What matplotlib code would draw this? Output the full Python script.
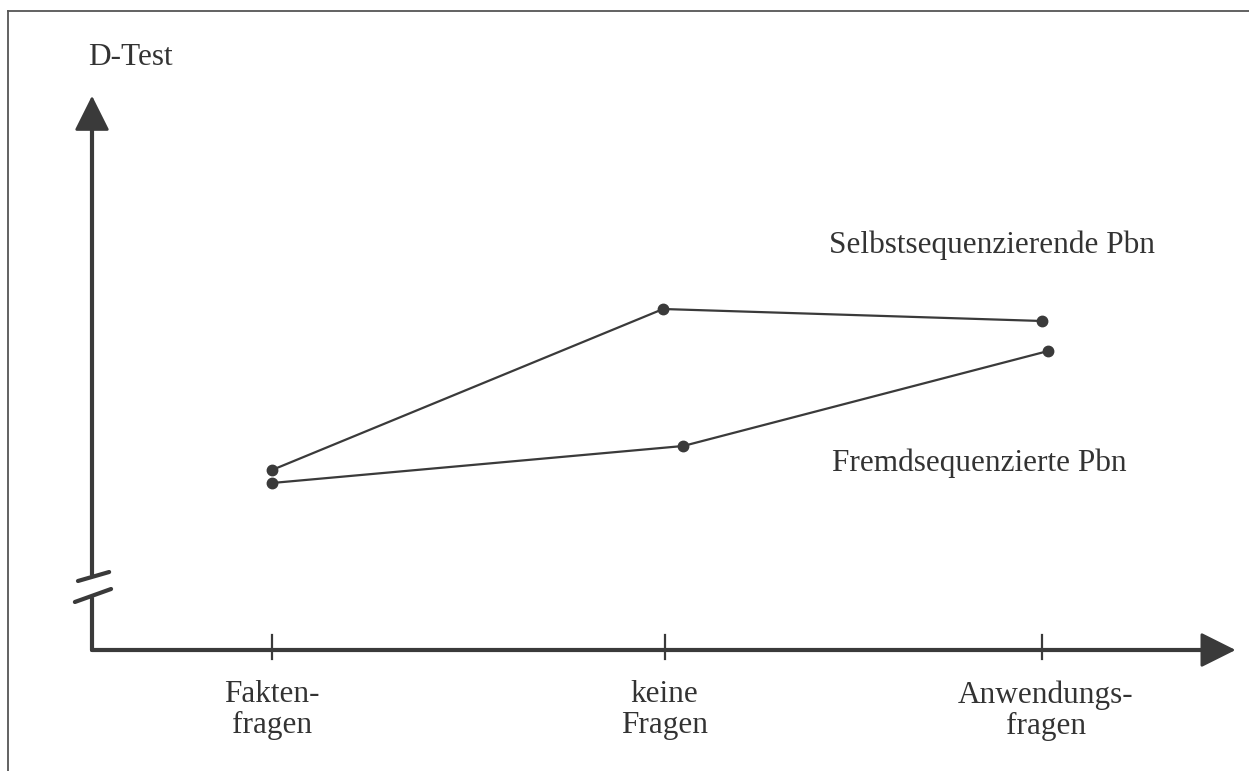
import matplotlib
matplotlib.use("Agg")
import matplotlib.pyplot as plt
from matplotlib.lines import Line2D
from matplotlib.patches import FancyArrowPatch

plt.rcParams["font.family"] = ["Liberation Serif", "DejaVu Serif"]

# categories on the x axis (tick positions in category units)
categories = ["Fakten-\nfragen", "keine\nFragen", "Anwendungs-\nfragen"]
tick_pos = [0.0, 1.02, 2.0]

# D-Test values (arbitrary units, origin cut off by the axis break)
selbst_x = [0.0, 1.016, 2.0]
selbst_y = [1.80, 3.41, 3.29]
fremd_x = [0.0, 1.068, 2.016]
fremd_y = [1.67, 2.04, 2.99]

INK = "#3a3a3a"
TEXT = "#333333"

fig = plt.figure(figsize=(12.49, 7.71), dpi=100)
fig.patch.set_facecolor("white")
ax = fig.add_axes([0, 0, 1, 1])
ax.set_xlim(-0.7065, 2.5377)
ax.set_ylim(-1.21, 6.5)
ax.axis("off")

# ── frame (top and left edge) ─────────────────────────────────────────
fig.add_artist(Line2D([8 / 1249, 8 / 1249], [0, 1 - 11 / 771],
                      transform=fig.transFigure, color="#555", lw=1.3))
fig.add_artist(Line2D([8 / 1249, 1], [1 - 11 / 771, 1 - 11 / 771],
                      transform=fig.transFigure, color="#555", lw=1.3))

# ── axes with arrows and break ────────────────────────────────────────
y0x = -0.4675
axis_kw = dict(color=INK, lw=3, solid_capstyle="round")
ax.plot([y0x, y0x], [0, 0.52], **axis_kw)
ax.plot([y0x, 2.45], [0, 0], **axis_kw)
ax.plot([y0x, y0x], [0.75, 5.3], **axis_kw)

head = "-|>,head_length=1.1,head_width=0.55"
ax.add_patch(FancyArrowPatch((y0x, 5.0), (y0x, 5.57), arrowstyle=head,
                             mutation_scale=20, color=INK, lw=2,
                             joinstyle="round"))
ax.add_patch(FancyArrowPatch((2.3, 0), (2.51, 0), arrowstyle=head,
                             mutation_scale=20, color=INK, lw=2,
                             joinstyle="round"))

# break marks
ax.plot([-0.504, -0.423], [0.69, 0.78], **axis_kw)
ax.plot([-0.512, -0.418], [0.48, 0.61], **axis_kw)

# ticks
for tx in tick_pos:
    ax.plot([tx, tx], [-0.09, 0.15], color=INK, lw=1.6)

# ── data lines ────────────────────────────────────────────────────────
ax.plot(selbst_x, selbst_y, color=INK, lw=1.6, marker="o", markersize=7.5,
        markerfacecolor=INK, markeredgecolor=INK, zorder=4)
ax.plot(fremd_x, fremd_y, color=INK, lw=1.6, marker="o", markersize=7.5,
        markerfacecolor=INK, markeredgecolor=INK, zorder=4)

# ── text ──────────────────────────────────────────────────────────────
fs = 22.5
ax.text(-0.478, 5.92, "D-Test", fontsize=fs, color=TEXT, ha="left", va="center")
ax.text(1.448, 4.05, "Selbstsequenzierende Pbn", fontsize=fs, color=TEXT,
        ha="left", va="center")
ax.text(1.455, 1.87, "Fremdsequenzierte Pbn", fontsize=fs, color=TEXT,
        ha="left", va="center")

for tx, lab in zip([0.0, 1.02, 2.01], categories):
    ax.text(tx, -0.3, lab, fontsize=fs, color=TEXT, ha="center", va="top",
            linespacing=1.1)

fig.savefig("out.png", dpi=100, facecolor="white")
